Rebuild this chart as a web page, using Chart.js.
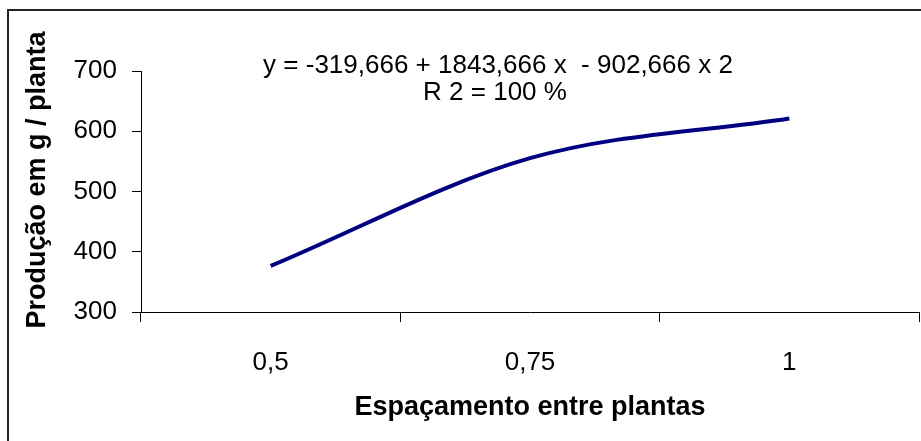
<!DOCTYPE html>
<html>
<head>
<meta charset="utf-8">
<script src="https://cdn.jsdelivr.net/npm/chart.js@4/dist/chart.umd.min.js"></script>
<style>
  body { margin:0; background:#fff; }
  #caixa { position:relative; width:921px; height:441px; }
</style>
</head>
<body>
<div id="caixa"><canvas id="grafico" width="921" height="441"></canvas></div>
<script>
// dados
var espacamentos = ["0,5", "0,75", "1"];
var producao = [376.5, 555.3, 621.3];
var ticksY = [300, 400, 500, 600, 700];

var fonte = "'Liberation Sans', Arial, sans-serif";

// textos fixos + moldura
var textosExtra = {
    id: "textosExtra",
    afterDraw: function(chart){
        var ctx = chart.ctx;
        ctx.save();
        ctx.strokeStyle = "#222";
        ctx.lineWidth = 2;
        ctx.beginPath();
        ctx.moveTo(8, 445);
        ctx.lineTo(8, 10);
        ctx.lineTo(925, 10);
        ctx.stroke();

        ctx.fillStyle = "#000";
        ctx.textAlign = "center";
        ctx.textBaseline = "alphabetic";
        ctx.font = "26px " + fonte;
        ctx.fillText("y = -319,666 + 1843,666 x  - 902,666 x 2", 498, 73);
        ctx.fillText("R 2 = 100 %", 495, 100);

        ctx.font = "bold 27px " + fonte;
        ctx.fillText("Espaçamento entre plantas", 530, 415);

        ctx.translate(45, 180);
        ctx.rotate(-Math.PI/2);
        ctx.fillText("Produção em g / planta", 0, 0);
        ctx.restore();
    }
};

var ctx = document.getElementById("grafico").getContext("2d");
var chart = new Chart(ctx, {
    type: "line",
    data: {
        labels: espacamentos,
        datasets: [{
            label: "Produção",
            data: producao,
            borderColor: "#000080",
            borderWidth: 4,
            pointRadius: 0,
            cubicInterpolationMode: "monotone",
            fill: false
        }]
    },
    options: {
        responsive: false,
        animation: false,
        events: [],
        layout: { padding: { left: 0, top: 71, right: 2, bottom: 0 } },
        plugins: { legend: { display: false }, tooltip: { enabled: false } },
        scales: {
            x: {
                offset: true,
                grid: { offset: true, drawOnChartArea: false, tickLength: 10, color: "#000" },
                border: { color: "#000", width: 1 },
                ticks: { color: "#000", font: { family: fonte, size: 26 }, padding: 25, maxRotation: 0 },
                afterFit: function(s){ s.height = 129; }
            },
            y: {
                min: 300,
                max: 700,
                afterBuildTicks: function(s){ s.ticks = ticksY.map(function(v){ return { value: v }; }); },
                grid: { drawOnChartArea: false, tickLength: 9, color: "#000" },
                border: { color: "#000", width: 1 },
                ticks: { color: "#000", font: { family: fonte, size: 26 }, padding: 15 },
                afterFit: function(s){ s.width = 141; }
            }
        }
    },
    plugins: [textosExtra]
});
</script>
</body>
</html>
